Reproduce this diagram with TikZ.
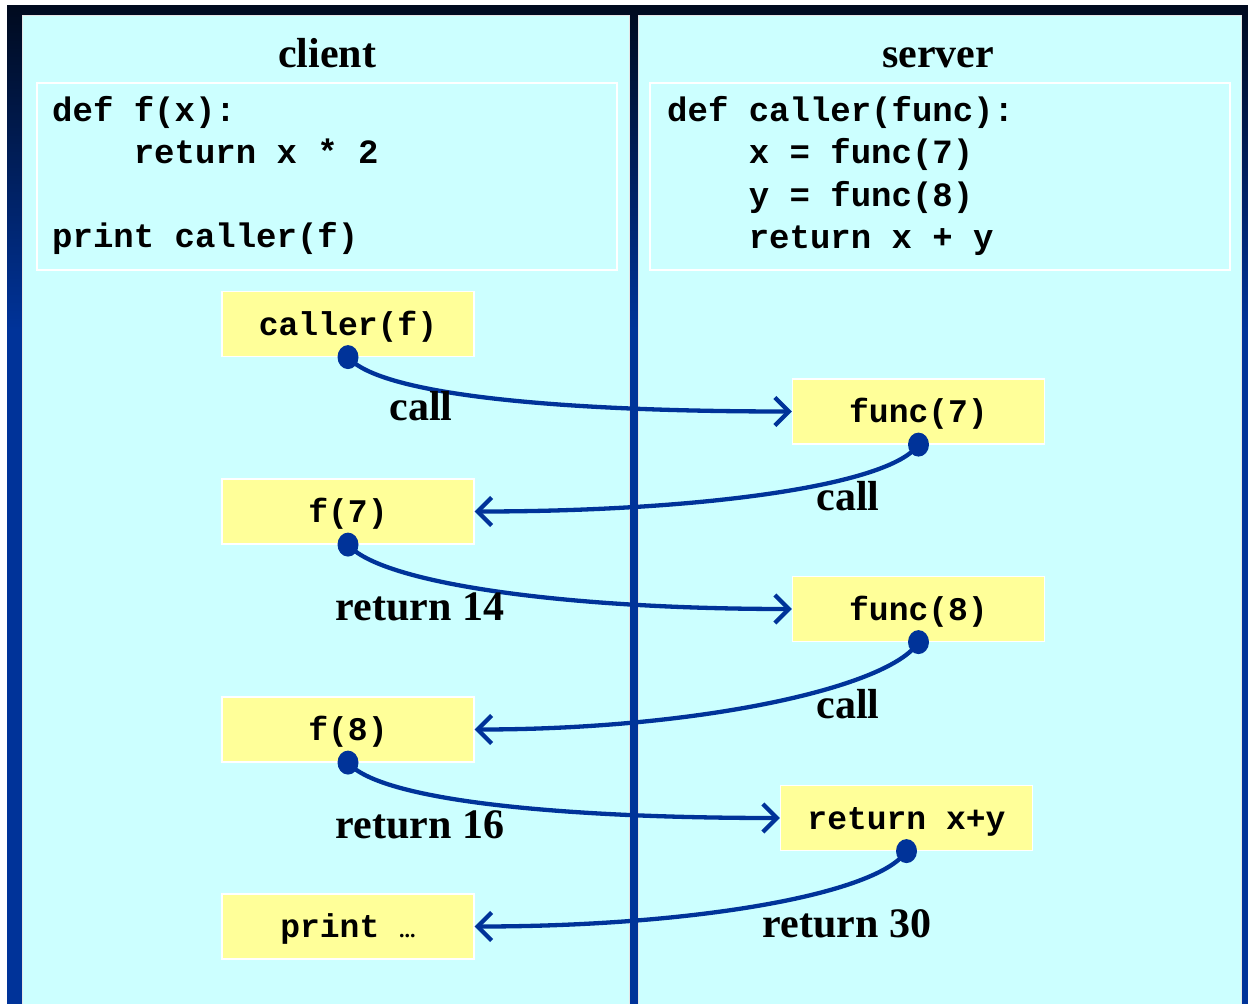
\documentclass[tikz,border=0pt]{standalone}
\usepackage{fontspec}
\setmainfont{Liberation Serif}
\newfontfamily\codefont{Liberation Mono}
\usetikzlibrary{arrows.meta,shapes.geometric}
\definecolor{panelcyan}{HTML}{CCFFFF}
\definecolor{boxyellow}{HTML}{FFFF99}
\definecolor{navy}{HTML}{003399}
\definecolor{topdark}{HTML}{000A1E}
\begin{document}
\begin{tikzpicture}[x=1pt,y=-1pt,
  codetxt/.style={font=\codefont\bfseries\fontsize{34}{40}\selectfont, anchor=base west, inner sep=0pt},
  titletxt/.style={font=\bfseries\fontsize{42}{48}\selectfont, anchor=base, inner sep=0pt},
  lbl/.style={font=\bfseries\fontsize{42}{48}\selectfont, anchor=base, inner sep=0pt},
  callbox/.style={fill=boxyellow, draw=white, line width=1.2pt, minimum width=252pt, minimum height=65pt, inner sep=0pt, text height=26pt, text depth=4pt, font=\codefont\bfseries\fontsize{33}{40}\selectfont},
  enddot/.style={ellipse, fill=navy, inner sep=0pt, minimum width=21pt, minimum height=24pt},
  flow/.style={draw=navy, line width=4.3pt, -{Straight Barb[length=14pt,width=28pt]}},
  panelbox/.style={fill=panelcyan, draw=white!80!gray, line width=1pt},
  codebox/.style={draw=white, line width=2pt},
]
\useasboundingbox (0,0) rectangle (1248,1004);
\fill[white] (0,0) rectangle (1248,1004);
\fill[navy] (7,5) rectangle (1248,1004);
\shade[top color=topdark, bottom color=navy] (7,5) rectangle (1248,330);
% panels
\path[panelbox] (22,15) rectangle (629,1004);
\path[panelbox] (638,15) rectangle (1241,1004);
% titles
\node[titletxt] (client) at (327,67) {client};
\node[titletxt] (server) at (938,67) {server};
% code boxes
\draw[codebox] (37,83) rectangle (617,270);
\draw[codebox] (650,83) rectangle (1230,270);
\node[codetxt] (cl1) at (52,121) {def f(x):};
\node[codetxt] (cl2) at (52,163) {\hphantom{xxxx}return x * 2};
\node[codetxt] (cl3) at (52,247) {print caller(f)};
\node[codetxt] (sl1) at (667,121) {def caller(func):};
\node[codetxt] (sl2) at (667,163) {\hphantom{xxxx}x = func(7)};
\node[codetxt] (sl3) at (667,206) {\hphantom{xxxx}y = func(8)};
\node[codetxt] (sl4) at (667,248) {\hphantom{xxxx}return x + y};
% yellow boxes
\node[callbox] (callerf) at (348,324) {caller(f)};
\node[callbox] (func7) at (918.5,411.5) {func(7)};
\node[callbox] (f7) at (348,511.5) {f(7)};
\node[callbox] (func8) at (918.5,609) {func(8)};
\node[callbox] (f8) at (348,729.5) {f(8)};
\node[callbox] (retxy) at (906.5,818) {return x+y};
\node[callbox] (printn) at (348,926.5) {print {\rmfamily\fontsize{22}{22}\selectfont ...}};
% arrows
\draw[flow] (callerf.south) .. controls +(32,38) and +(-233,0) .. (func7.west);
\draw[flow] (func7.south) .. controls +(-28,41) and +(226,0) .. (f7.east);
\draw[flow] (f7.south) .. controls +(32,38) and +(-233,0) .. (func8.west);
\draw[flow] (func8.south) .. controls +(-28,45) and +(226,0) .. (f8.east);
\draw[flow] (f8.south) .. controls +(32,38) and +(-220,0) .. (retxy.west);
\draw[flow] (retxy.south) .. controls +(-28,43) and +(220,0) .. (printn.east);
% dots
\node[enddot] (d1) at (callerf.south) {};
\node[enddot] (d2) at (func7.south) {};
\node[enddot] (d3) at (f7.south) {};
\node[enddot] (d4) at (func8.south) {};
\node[enddot] (d5) at (f8.south) {};
\node[enddot] (d6) at (retxy.south) {};
% labels
\node[lbl] (l1) at (421,420) {call};
\node[lbl] (l2) at (848,510) {call};
\node[lbl] (l3) at (420,620) {return 14};
\node[lbl] (l4) at (848,718) {call};
\node[lbl] (l5) at (420,838) {return 16};
\node[lbl] (l6) at (847,937) {return 30};
\end{tikzpicture}
\end{document}
